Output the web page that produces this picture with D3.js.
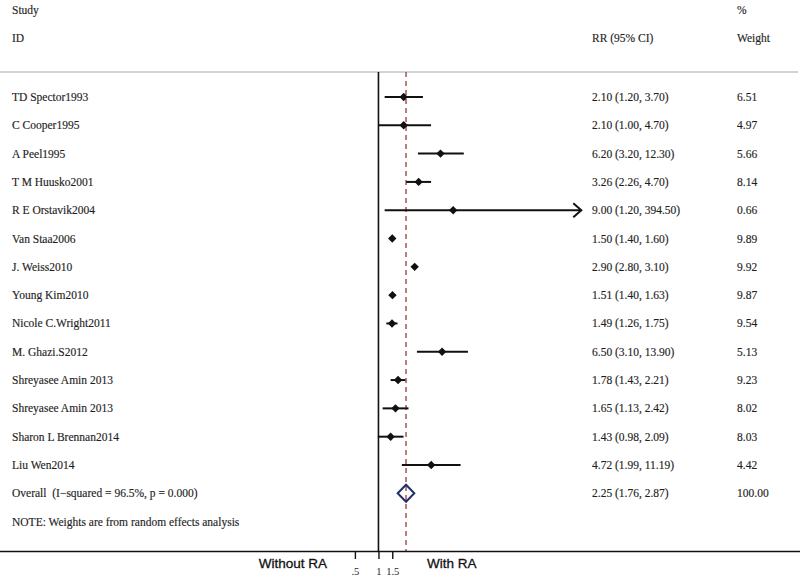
<!DOCTYPE html>
<html><head><meta charset="utf-8">
<script src="https://cdn.jsdelivr.net/npm/d3@7"></script>
<style>
html,body{margin:0;padding:0;background:#fff;}
svg{display:block;}
text{white-space:pre;}
</style>
</head><body>
<svg id="chart" width="800" height="577"></svg>
<script>
const studies = ["TD Spector1993","C Cooper1995","A Peel1995","T M Huusko2001","R E Orstavik2004","Van Staa2006","J. Weiss2010","Young Kim2010","Nicole C.Wright2011","M. Ghazi.S2012","Shreyasee Amin 2013","Shreyasee Amin 2013","Sharon L Brennan2014","Liu Wen2014"];
const rr    = [2.10,2.10,6.20,3.26,9.00,1.50,2.90,1.51,1.49,6.50,1.78,1.65,1.43,4.72];
const lower = [1.20,1.00,3.20,2.26,1.20,1.40,2.80,1.40,1.26,3.10,1.43,1.13,0.98,1.99];
const upper = [3.70,4.70,12.30,4.70,394.50,1.60,3.10,1.63,1.75,13.90,2.21,2.42,2.09,11.19];
const weights = ["6.51","4.97","5.66","8.14","0.66","9.89","9.92","9.87","9.54","5.13","9.23","8.02","8.03","4.42"];
const overall = {label:"Overall  (I\u2212squared = 96.5%, p = 0.000)", rr:2.25, lower:1.76, upper:2.87, weight:"100.00"};
const note = "NOTE: Weights are from random effects analysis";
const tickValues = [0.5, 1, 1.5];
const tickLabels = [".5", "1", "1.5"];
const xDomain = [0.5, 390];

const svg = d3.select("#chart");
const serif = "'Liberation Serif','Times New Roman',serif";
const sans = "'Liberation Sans',Arial,sans-serif";
const textCol = "#1e1e1e";

const x = d3.scaleLog().domain(xDomain).range([354.9, 581.3]);
const rowKeys = studies.map((d,i)=>"r"+i).concat(["overall","note"]);
const y = d3.scalePoint().domain(rowKeys).range([97, 521.6]);

const topY = 72, axisY = 551.5;
const fmt = d3.format(".2f");

function label(sel){
  return sel.attr("dy","0.35em").attr("font-family",serif).attr("font-size",11.5)
    .attr("fill",textCol).attr("stroke",textCol).attr("stroke-width",0.15);
}

// header
const hdr = [
  {t:"Study", x:12, y:10}, {t:"ID", x:12, y:38},
  {t:"%", x:737, y:10}, {t:"RR (95% CI)", x:592, y:38}, {t:"Weight", x:737, y:38}
];
label(svg.selectAll("text.hdr").data(hdr).enter().append("text")
  .attr("class","hdr").attr("x",d=>d.x).attr("y",d=>d.y)).text(d=>d.t);

svg.append("line").attr("x1",0).attr("x2",798).attr("y1",topY).attr("y2",topY)
  .attr("stroke","#c4c4c4").attr("stroke-width",1.5);

// reference lines
svg.append("line").attr("x1",x(1)).attr("x2",x(1)).attr("y1",topY).attr("y2",axisY)
  .attr("stroke","#111").attr("stroke-width",1.6);
svg.append("line").attr("x1",x(overall.rr)).attr("x2",x(overall.rr)).attr("y1",topY).attr("y2",axisY)
  .attr("stroke","#a04848").attr("stroke-width",1.4).attr("stroke-dasharray","5,4");

// study rows
const rows = studies.map((s,i)=>({s, rr:rr[i], lo:lower[i], hi:upper[i], w:weights[i], key:"r"+i}));

label(svg.selectAll("text.name").data(rows).enter().append("text")
  .attr("x",12).attr("y",d=>y(d.key))).text(d=>d.s);
label(svg.selectAll("text.ci").data(rows).enter().append("text")
  .attr("x",592).attr("y",d=>y(d.key)))
  .text(d=>`${fmt(d.rr)} (${fmt(d.lo)}, ${fmt(d.hi)})`);
label(svg.selectAll("text.wt").data(rows).enter().append("text")
  .attr("x",737).attr("y",d=>y(d.key))).text(d=>d.w);

const clampX = v => x(Math.max(xDomain[0], Math.min(xDomain[1], v)));
svg.selectAll("line.ci").data(rows).enter().append("line")
  .attr("x1",d=>clampX(d.lo)).attr("x2",d=>clampX(d.hi))
  .attr("y1",d=>y(d.key)).attr("y2",d=>y(d.key))
  .attr("stroke","#111").attr("stroke-width",2);
// arrows for clipped CIs
rows.filter(d=>d.hi>xDomain[1]).forEach(d=>{
  const ex = x(xDomain[1]), ey = y(d.key);
  svg.append("path").attr("d",`M${ex-8},${ey-7}L${ex},${ey}L${ex-8},${ey+7}`)
    .attr("fill","none").attr("stroke","#111").attr("stroke-width",2);
});
const ds = 4.2;
svg.selectAll("path.pt").data(rows).enter().append("path")
  .attr("d",d=>{const cx=x(d.rr), cy=y(d.key); return `M${cx},${cy-ds}L${cx+ds},${cy}L${cx},${cy+ds}L${cx-ds},${cy}Z`;})
  .attr("fill","#111");

// overall
const oy = y("overall");
label(svg.append("text").attr("x",12).attr("y",oy)).text(overall.label);
label(svg.append("text").attr("x",592).attr("y",oy))
  .text(`${fmt(overall.rr)} (${fmt(overall.lower)}, ${fmt(overall.upper)})`);
label(svg.append("text").attr("x",737).attr("y",oy)).text(overall.weight);
svg.append("path")
  .attr("d",`M${x(overall.lower)},${oy}L${x(overall.rr)},${oy-8.5}L${x(overall.upper)},${oy}L${x(overall.rr)},${oy+8.5}Z`)
  .attr("fill","none").attr("stroke","#22306a").attr("stroke-width",2);

// note
label(svg.append("text").attr("x",12).attr("y",y("note"))).text(note);

// axis
svg.append("line").attr("x1",0).attr("x2",800).attr("y1",axisY).attr("y2",axisY)
  .attr("stroke","#111").attr("stroke-width",1.6);
const axis = d3.axisBottom(x).tickValues(tickValues).tickFormat((d,i)=>tickLabels[i]).tickSize(7.5).tickPadding(9);
const ag = svg.append("g").attr("transform",`translate(0,${axisY})`).call(axis);
ag.select(".domain").remove();
ag.selectAll(".tick line").attr("stroke","#111").attr("stroke-width",1.4);
ag.selectAll(".tick text").attr("font-family",serif).attr("font-size",10.5).attr("fill",textCol);

svg.append("text").attr("x",327).attr("y",563).attr("dy","0.35em").attr("text-anchor","end")
  .attr("font-family",sans).attr("font-size",13.5).attr("fill","#111")
  .attr("stroke","#111").attr("stroke-width",0.3).text("Without RA");
svg.append("text").attr("x",427).attr("y",563).attr("dy","0.35em")
  .attr("font-family",sans).attr("font-size",13.5).attr("fill","#111")
  .attr("stroke","#111").attr("stroke-width",0.3).text("With RA");
</script>
</body></html>
